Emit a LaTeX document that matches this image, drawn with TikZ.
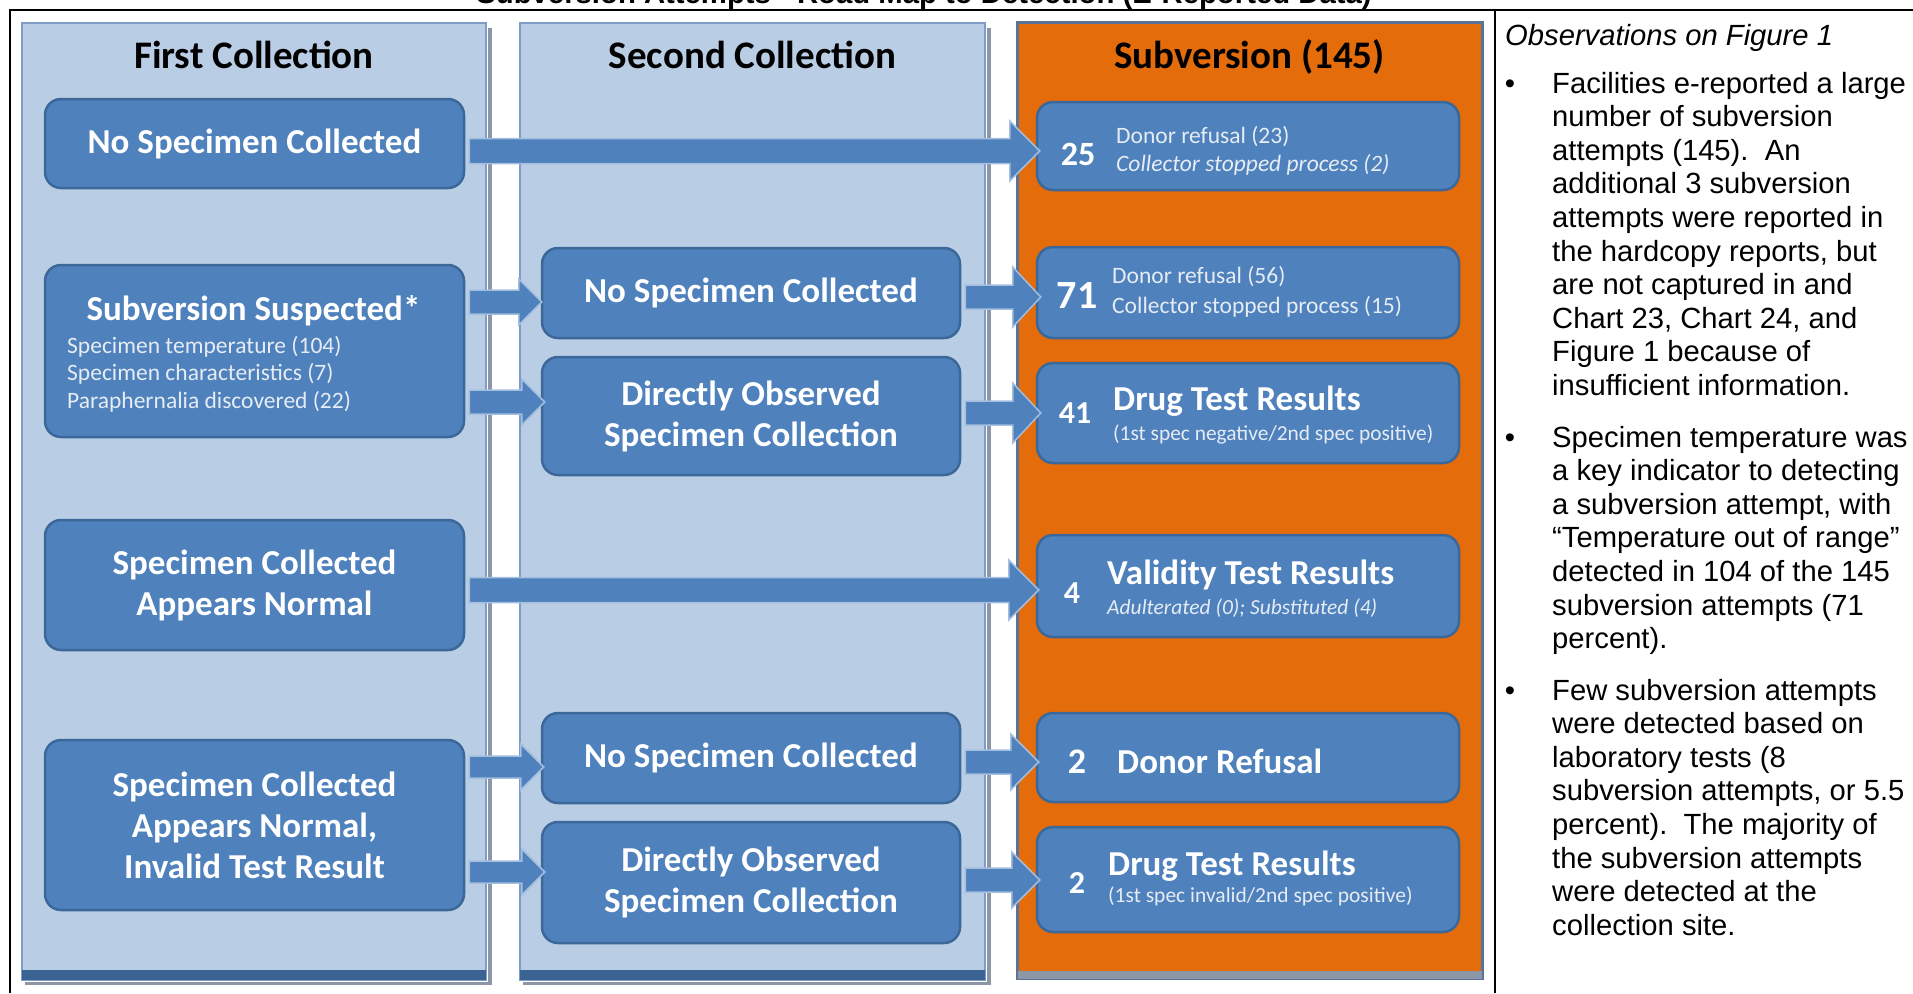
\documentclass[tikz,border=0pt]{standalone}
\usepackage{fontspec}
\setmainfont{Liberation Sans}
\newfontfamily\calfont{Carlito}
\usetikzlibrary{calc}
\definecolor{panelblue}{HTML}{B9CDE5}
\definecolor{panelborder}{HTML}{7F9CC4}
\definecolor{bandblue}{HTML}{3A6393}
\definecolor{shadowgray}{HTML}{8C96A6}
\definecolor{orangefill}{HTML}{E46C0A}
\definecolor{orangeborder}{HTML}{5A7398}
\definecolor{boxblue}{HTML}{4F81BD}
\definecolor{boxborder}{HTML}{3B6898}
\definecolor{arrowedge}{HTML}{A3BEDF}
\definecolor{subtext}{HTML}{E6ECF4}
\tikzset{
  frameline/.style={draw=black, line width=2pt},
  panel/.style={rectangle, fill=panelblue, draw=panelborder, line width=2pt, inner sep=0pt},
  orangepanel/.style={rectangle, fill=orangefill, draw=orangeborder, line width=3pt, inner sep=0pt},
  hdr/.style={inner sep=0pt, text=black, font=\calfont\bfseries\fontsize{39}{47}\selectfont},
  box/.style={rectangle, rounded corners=16pt, fill=boxblue, draw=boxborder, line width=2.5pt,
     inner sep=0pt, text=white, align=center, font=\calfont\bfseries\fontsize{35}{41}\selectfont},
  boxtitle/.style={inner sep=0pt, text=white, font=\calfont\bfseries\fontsize{35}{41}\selectfont},
  subline/.style={inner sep=0pt, text=subtext, font=\calfont\fontsize{23.5}{27}\selectfont},
  numtext/.style={inner sep=0pt, text=white, font=\calfont\bfseries\fontsize{#1}{#1}\selectfont},
  smalltext/.style={inner sep=0pt, text=subtext, font=\calfont\fontsize{#1}{#1}\selectfont},
  smallit/.style={inner sep=0pt, text=subtext, font=\calfont\itshape\fontsize{#1}{#1}\selectfont},
  bigtext/.style={inner sep=0pt, text=white, font=\calfont\bfseries\fontsize{35}{35}\selectfont},
  arrowshape/.style={fill=boxblue, draw=arrowedge, line width=1.5pt, line join=miter},
  obstext/.style={inner sep=0pt, anchor=base west, text=black},
  bullettext/.style={inner sep=0pt, anchor=base, text=black, font=\fontsize{29.2}{33.6}\selectfont},
}
% block arrow: from, to, y, shaft half, head half, head length, tip overlap
\newcommand\blockarrow[7]{%
  \path[arrowshape] let \p1=(#1.east), \p2=(#2.west) in
    (\x1+4,-#3+#4) -- (\x2+#7-#6,-#3+#4) -- (\x2+#7-#6,-#3+#5) -- (\x2+#7,-#3)
    -- (\x2+#7-#6,-#3-#5) -- (\x2+#7-#6,-#3-#4) -- (\x1+4,-#3-#4) -- cycle;}
\begin{document}
\begin{tikzpicture}[x=1pt,y=1pt]
\useasboundingbox (0,0) rectangle (1913,-993);
\fill[white] (0,0) rectangle (1913,-993);

% title (cut off by the top edge)
\node[inner sep=0pt, anchor=base, font=\bfseries\fontsize{29.3}{34}\selectfont] (title) at (924,-3)
  {Subversion Attempts - Road Map to Detection (E-Reported Data)};

% frame
\draw[frameline] (10,-993) -- (10,-9.5) -- (1913,-9.5);
\draw[frameline] (1495,-9.5) -- (1495,-993);

% panels
\node[panel, minimum width=464pt, minimum height=957pt] (p1) at (254,-501.5) {};
\node[panel, minimum width=465pt, minimum height=957pt] (p2) at (752.5,-501.5) {};
\foreach \p in {p1,p2}{
  \fill[shadowgray] ($(\p.north east)+(1,-6)$) rectangle ($(\p.south east)+(5,-4)$);
  \fill[shadowgray] ($(\p.south west)+(4,-1)$) rectangle ($(\p.south east)+(5,-4)$);
  \fill[bandblue] ($(\p.south west)+(1,11)$) rectangle ($(\p.south east)+(-1,1)$);
}
\node[orangepanel, minimum width=465pt, minimum height=956pt] (p3) at (1249.5,-500) {};
\fill[shadowgray] ($(p3.south west)+(2,9)$) rectangle ($(p3.south east)+(-2,1)$);

% headers
\node[hdr, anchor=base] (h1) at (254,-68) {First Collection};
\node[hdr, anchor=base] (h2) at (752.5,-68) {Second Collection};
\node[hdr, anchor=base] (h3) at (1249.5,-68) {Subversion (145)};

% first collection boxes
\node[box, minimum width=419pt, minimum height=89pt] (b1) at (254.5,-143.5) {No Specimen Collected};
\node[box, minimum width=419pt, minimum height=172pt] (b2) at (254.5,-351) {};
\node[boxtitle, anchor=base] (ssT) at (253.5,-320) {Subversion Suspected*};
\node[subline, anchor=base west] (ss1) at (67,-353) {Specimen temperature (104)};
\node[subline, anchor=base west] (ss2) at (67,-380) {Specimen characteristics (7)};
\node[subline, anchor=base west] (ss3) at (67,-408) {Paraphernalia discovered (22)};
\node[box, minimum width=419pt, minimum height=130pt] (b3) at (254.5,-585) {Specimen Collected\\Appears Normal};
\node[box, minimum width=419pt, minimum height=170pt] (b4) at (254.5,-825) {Specimen Collected\\Appears Normal,\\Invalid Test Result};

% second collection boxes
\node[box, minimum width=418pt, minimum height=90pt] (cA) at (751,-293) {No Specimen Collected};
\node[box, minimum width=418pt, minimum height=118pt] (cB) at (751,-416) {Directly Observed\\Specimen Collection};
\node[box, minimum width=418pt, minimum height=90pt] (cC) at (751,-758) {No Specimen Collected};
\node[box, minimum width=418pt, minimum height=121pt] (cD) at (751,-882.5) {Directly Observed\\Specimen Collection};

% subversion boxes
\node[box, minimum width=422pt, minimum height=88pt] (r25) at (1248,-146) {};
\node[box, minimum width=422pt, minimum height=91pt] (r71) at (1248,-292.5) {};
\node[box, minimum width=422pt, minimum height=100pt] (r41) at (1248,-413) {};
\node[box, minimum width=422pt, minimum height=102pt] (r4) at (1248,-586) {};
\node[box, minimum width=422pt, minimum height=89pt] (r2a) at (1248,-757.5) {};
\node[box, minimum width=422pt, minimum height=105pt] (r2b) at (1248,-879.5) {};

\node[numtext=34, anchor=base] (n25) at (1078,-165) {25};
\node[smalltext=23.5, anchor=base west] (t25a) at (1116,-143) {Donor refusal (23)};
\node[smallit=23.5, anchor=base west] (t25b) at (1116,-171) {Collector stopped process (2)};

\node[numtext=40, anchor=base] (n71) at (1077,-308) {71};
\node[smalltext=23.5, anchor=base west] (t71a) at (1112,-283) {Donor refusal (56)};
\node[smalltext=23.5, anchor=base west] (t71b) at (1112,-313) {Collector stopped process (15)};

\node[numtext=32, anchor=base] (n41) at (1075,-423) {41};
\node[bigtext, anchor=base west] (t41a) at (1113,-410) {Drug Test Results};
\node[smalltext=21.4, anchor=base west] (t41b) at (1113,-440) {(1st spec negative/2nd spec positive)};

\node[numtext=32, anchor=base] (n4) at (1072,-603) {4};
\node[bigtext, anchor=base west] (t4a) at (1107,-584) {Validity Test Results};
\node[smallit=21.5, anchor=base west] (t4b) at (1107,-614) {Adulterated (0); Substituted (4)};

\node[numtext=36, anchor=base] (n2a) at (1077,-773) {2};
\node[bigtext, anchor=base west] (t2a) at (1117,-773) {Donor Refusal};

\node[numtext=32, anchor=base] (n2b) at (1077,-893) {2};
\node[bigtext, anchor=base west] (t2b) at (1108,-875) {Drug Test Results};
\node[smalltext=21.5, anchor=base west] (t2c) at (1108,-902) {(1st spec invalid/2nd spec positive)};

% arrows
\blockarrow{b1}{r25}{151}{12.5}{30}{30}{4}
\blockarrow{b2}{cA}{302}{12}{23}{23}{1}
\blockarrow{b2}{cB}{402}{12}{23}{23}{4}
\blockarrow{cA}{r71}{297}{12}{30}{28}{5}
\blockarrow{cB}{r41}{413}{12}{30}{28}{5}
\blockarrow{b3}{r4}{590}{12.5}{30}{30}{3}
\blockarrow{b4}{cC}{767}{11}{23}{23}{3}
\blockarrow{b4}{cD}{872}{11}{23}{23}{4}
\blockarrow{cC}{r2a}{762}{12}{28}{28}{3}
\blockarrow{cD}{r2b}{880}{12}{28}{28}{4}

% observations
\node[inner sep=0pt, anchor=base west, font=\itshape\fontsize{29.2}{33.6}\selectfont] (obsT) at (1505,-45) {Observations on Figure 1};
\node[bullettext] (bu1) at (1510,-93) {\textbullet};
\node[obstext] (obs1) at (1552,-93) {\parbox[t]{360pt}{\raggedright\fontsize{29.2}{33.6}\selectfont
Facilities e-reported a large\\number of subversion\\attempts (145).\ \ An\\additional 3 subversion\\attempts were reported in\\the hardcopy reports, but\\are not captured in and\\Chart 23, Chart 24, and\\Figure 1 because of\\insufficient information.}};
\node[bullettext] (bu2) at (1510,-447) {\textbullet};
\node[obstext] (obs2) at (1552,-447) {\parbox[t]{360pt}{\raggedright\fontsize{29.2}{33.6}\selectfont
Specimen temperature was\\a key indicator to detecting\\a subversion attempt, with\\“Temperature out of range”\\detected in 104 of the 145\\subversion attempts (71\\percent).}};
\node[bullettext] (bu3) at (1510,-700) {\textbullet};
\node[obstext] (obs3) at (1552,-700) {\parbox[t]{360pt}{\raggedright\fontsize{29.2}{33.6}\selectfont
Few subversion attempts\\were detected based on\\laboratory tests (8\\subversion attempts, or 5.5\\percent).\ \ The majority of\\the subversion attempts\\were detected at the\\collection site.}};
\end{tikzpicture}
\end{document}
